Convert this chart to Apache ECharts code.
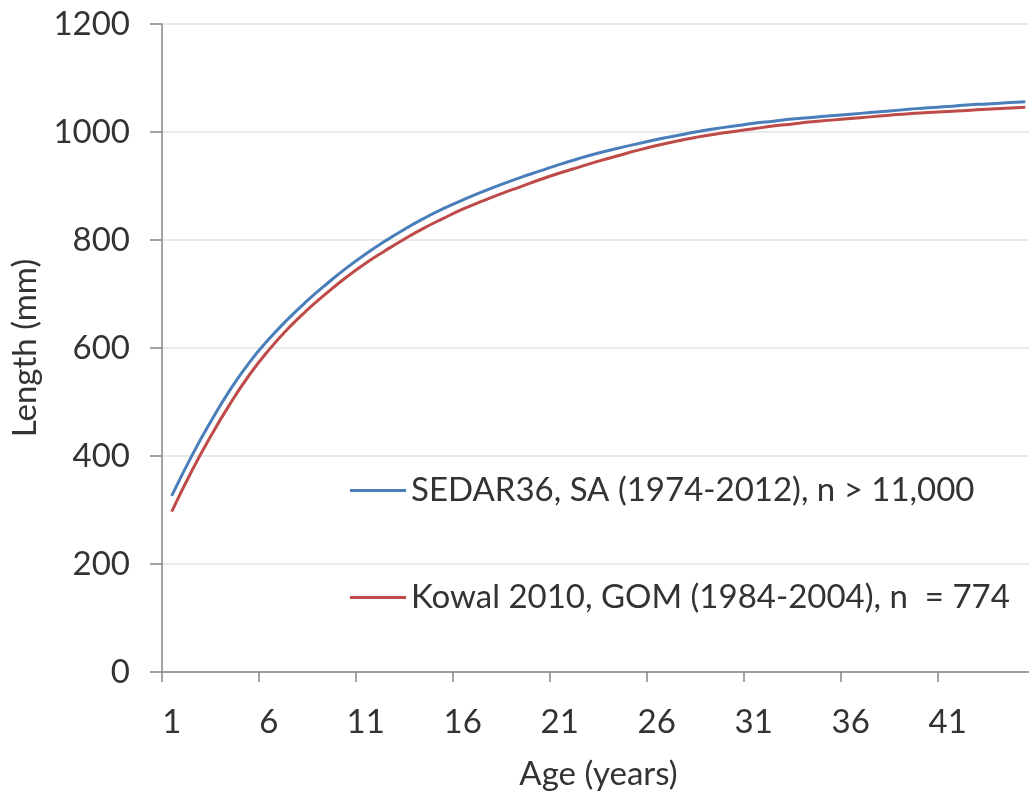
<!DOCTYPE html>
<html>
<head>
<meta charset="utf-8">
<script src="https://cdn.jsdelivr.net/npm/echarts@6/dist/echarts.min.js"></script>
<style>
html,body{margin:0;padding:0;background:#fff;}
#chart{width:1029px;height:799px;}
</style>
</head>
<body>
<div id="chart"></div>
<script>
const ages = [];
for (let a = 1; a <= 45; a++) ages.push(String(a));

const seriesNames = ['SEDAR36, SA (1974-2012), n > 11,000', 'Kowal 2010, GOM (1984-2004), n  = 774'];

const sedar36 = [326, 398, 463, 522, 573, 616, 654, 688, 719, 748,
  774, 798, 820, 840, 858, 874, 889, 903, 916, 928,
  940, 951, 961, 970, 978, 986, 993, 1000, 1006, 1011,
  1016, 1020, 1024, 1027, 1030, 1033, 1036, 1039, 1042, 1045,
  1047, 1050, 1052, 1054, 1056];

const kowal2010 = [297, 370, 436, 496, 550, 596, 636, 671, 702, 731,
  757, 780, 802, 822, 840, 857, 872, 886, 899, 912,
  924, 935, 946, 956, 966, 975, 983, 990, 996, 1001,
  1006, 1011, 1015, 1019, 1022, 1025, 1028, 1031, 1034, 1036,
  1038, 1040, 1042, 1044, 1046];

const yTicks = { min: 0, max: 1200, interval: 200 };
const colors = ['#4A7EBB', '#BE4B48'];

const FONT = 'Lato';
const TXT = '#333333';

const chart = echarts.init(document.getElementById('chart'), null, { renderer: 'canvas' });
chart.setOption({
  backgroundColor: '#ffffff',
  animation: false,
  grid: { left: 162, top: 24, width: 873, height: 648, containLabel: false, outerBoundsMode: 'none' },
  legend: {
    orient: 'vertical',
    left: 345,
    top: 469,
    itemGap: 74,
    itemWidth: 56,
    itemHeight: 3,
    icon: 'rect',
    textStyle: { fontFamily: FONT, fontSize: 33, color: TXT },
    data: seriesNames
  },
  xAxis: {
    type: 'category',
    data: ages,
    boundaryGap: true,
    name: 'Age (years)',
    nameLocation: 'middle',
    nameGap: 86,
    nameTextStyle: { fontFamily: FONT, fontSize: 33, color: TXT },
    axisLine: { lineStyle: { color: '#868686', width: 1.5 } },
    axisTick: { show: true, interval: 4, length: 10, lineStyle: { color: '#868686', width: 1.5 } },
    axisLabel: { interval: 4, margin: 34, fontFamily: FONT, fontSize: 33, color: TXT },
    splitLine: { show: false }
  },
  yAxis: {
    type: 'value',
    min: yTicks.min,
    max: yTicks.max,
    interval: yTicks.interval,
    name: 'Length (mm)',
    nameLocation: 'middle',
    nameRotate: 90,
    nameGap: 120,
    nameTextStyle: { fontFamily: FONT, fontSize: 33, color: TXT },
    axisLine: { show: true, lineStyle: { color: '#868686', width: 1.5 } },
    axisTick: { show: true, length: 12, lineStyle: { color: '#868686', width: 1.5 } },
    axisLabel: { margin: 32, fontFamily: FONT, fontSize: 33, color: TXT, formatter: function (v) { return String(v); } },
    splitLine: { show: true, lineStyle: { color: '#e3e3e3', width: 1.5 } }
  },
  series: [
    {
      name: seriesNames[0],
      type: 'line',
      data: sedar36,
      symbol: 'none',
      smooth: true,
      lineStyle: { color: colors[0], width: 3 },
      itemStyle: { color: colors[0] }
    },
    {
      name: seriesNames[1],
      type: 'line',
      data: kowal2010,
      symbol: 'none',
      smooth: true,
      lineStyle: { color: colors[1], width: 3 },
      itemStyle: { color: colors[1] }
    }
  ]
});
</script>
</body>
</html>
